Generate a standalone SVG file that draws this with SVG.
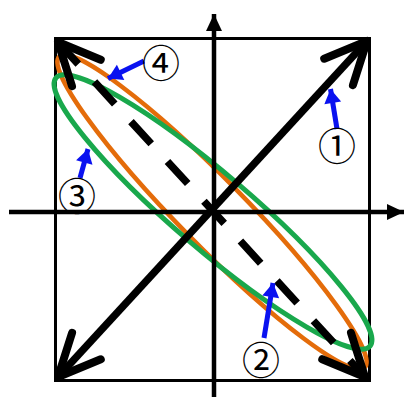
<svg xmlns="http://www.w3.org/2000/svg" width="414" height="400" viewBox="0 0 414 400">
<style>
.frame{fill:none;stroke:#000;stroke-width:3}
.axis{fill:none;stroke:#000;stroke-width:4.5}
.ell{fill:none}
.big{fill:none;stroke:#000;stroke-width:7.5}
.blue{fill:none;stroke:#0a12f0;stroke-width:5}
.lbl{font-family:"Noto Sans CJK JP","DejaVu Sans",sans-serif;font-size:38px;text-anchor:middle;dominant-baseline:central;fill:#000}
</style>
<defs>
<marker id="vhead" markerUnits="userSpaceOnUse" orient="auto-start-reverse" refX="0" refY="0" markerWidth="60" markerHeight="60" overflow="visible">
<path d="M-42,-19.5 L0,0 L-42,19.5" fill="none" stroke="#000" stroke-width="8" stroke-linecap="round" stroke-linejoin="round"/>
</marker>
<marker id="ahead" markerUnits="userSpaceOnUse" orient="auto" refX="0" refY="0" markerWidth="30" markerHeight="30" overflow="visible">
<path d="M-17,-8 L0,0 L-17,8 Z" fill="#000"/>
</marker>
<marker id="bhead" markerUnits="userSpaceOnUse" orient="auto" refX="0" refY="0" markerWidth="30" markerHeight="30" overflow="visible">
<path d="M-14,-8.5 L0,0 L-14,8.5 Z" fill="#0a12f0"/>
</marker>
</defs>
<g id="frame"><rect class="frame" x="55.5" y="38.5" width="314" height="342"/></g>
<g id="ellipses">
<ellipse id="orange" class="ell" cx="212" cy="212" rx="218" ry="33" transform="rotate(45.5 212 212)" stroke="#e46c0a" stroke-width="4.5"/>
<ellipse id="green" class="ell" cx="213" cy="212" rx="206.5" ry="37.6" transform="rotate(40.5 213 212)" stroke="#19a84c" stroke-width="5"/>
</g>
<g id="axes">
<line class="axis" x1="214" y1="397" x2="214" y2="14" marker-end="url(#ahead)"/>
<line class="axis" x1="9" y1="212" x2="404" y2="212" marker-end="url(#ahead)"/>
</g>
<g id="vectors">
<line id="v1" class="big" x1="58" y1="377" x2="367" y2="41" marker-start="url(#vhead)" marker-end="url(#vhead)"/>
<line id="v2" class="big" x1="58" y1="42" x2="365" y2="377" stroke-dasharray="30 24" marker-start="url(#vhead)" marker-end="url(#vhead)"/>
</g>
<g id="connectors">
<line class="blue" x1="337" y1="129" x2="330.5" y2="89" marker-end="url(#bhead)"/>
<line class="blue" x1="264" y1="338" x2="273" y2="283" marker-end="url(#bhead)"/>
<line class="blue" x1="80" y1="178" x2="88" y2="149" marker-end="url(#bhead)"/>
<line class="blue" x1="144" y1="61" x2="108" y2="78.5" marker-end="url(#bhead)"/>
</g>
<g id="label1"><text class="lbl" x="337" y="143">①</text></g>
<g id="label2"><text class="lbl" x="261" y="357">②</text></g>
<g id="label3"><text class="lbl" x="77" y="193">③</text></g>
<g id="label4"><text class="lbl" x="161" y="60">④</text></g>
</svg>
